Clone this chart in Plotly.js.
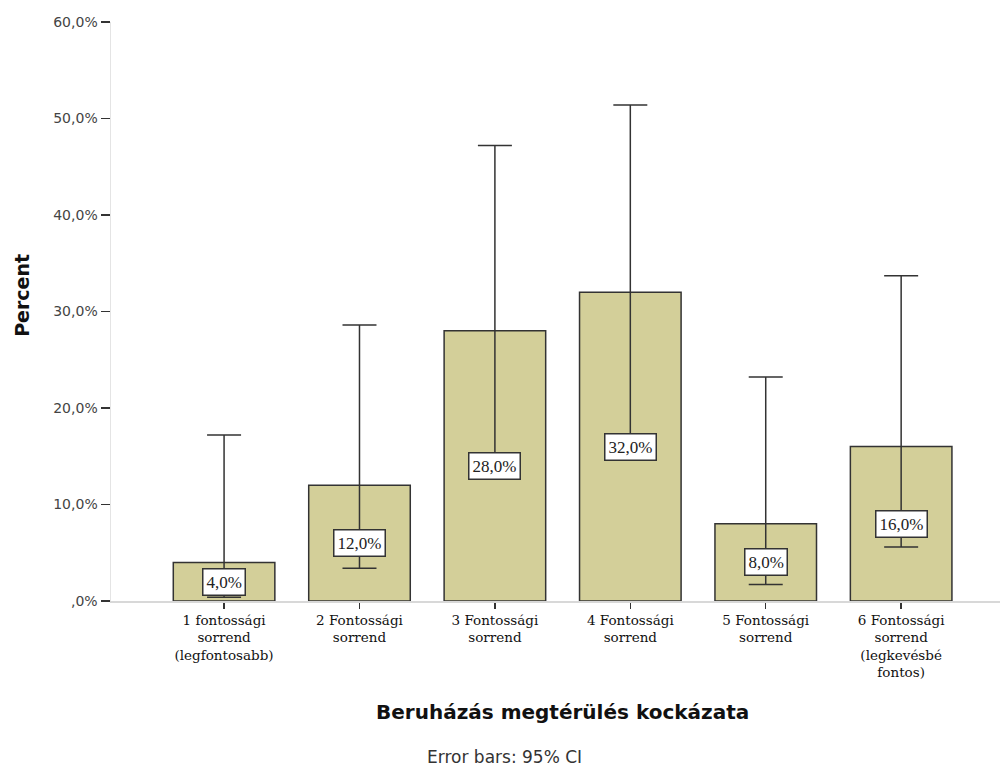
<!DOCTYPE html>
<html>
<head>
<meta charset="utf-8">
<script src="https://cdn.plot.ly/plotly-3.0.1.min.js"></script>
<style>html,body{margin:0;padding:0;background:#fff;}#chart{width:1004px;height:771px;}</style>
</head>
<body>
<div id="chart"></div>
<script>
var categories = [
  "1 fontossági<br>sorrend<br>(legfontosabb)",
  "2 Fontossági<br>sorrend",
  "3 Fontossági<br>sorrend",
  "4 Fontossági<br>sorrend",
  "5 Fontossági<br>sorrend",
  "6 Fontossági<br>sorrend<br>(legkevésbé<br>fontos)"
];
var percentValues = [4.0, 12.0, 28.0, 32.0, 8.0, 16.0];
var ciUpper = [17.2, 28.6, 47.2, 51.4, 23.2, 33.7];
var ciLower = [0.4, 3.4, 14.5, 16.0, 1.7, 5.6];
var barLabels = ["4,0%", "12,0%", "28,0%", "32,0%", "8,0%", "16,0%"];
var yTickVals = [0, 10, 20, 30, 40, 50, 60];
var yTickText = [",0%", "10,0%", "20,0%", "30,0%", "40,0%", "50,0%", "60,0%"];

var xIdx = categories.map(function(c, i){ return i; });
var errPlus = percentValues.map(function(v, i){ return ciUpper[i] - v; });
var errMinus = percentValues.map(function(v, i){ return v - ciLower[i]; });

var trace = {
  type: 'bar',
  x: xIdx,
  y: percentValues,
  width: 0.75,
  marker: {color: '#d3cf99', line: {color: '#333333', width: 1.5}},
  error_y: {type: 'data', symmetric: false, array: errPlus, arrayminus: errMinus,
            color: '#333333', thickness: 1.5, width: 17},
  hoverinfo: 'none'
};

var annotations = percentValues.map(function(v, i){
  return {x: xIdx[i], y: v / 2, xref: 'x', yref: 'y', text: barLabels[i], showarrow: false,
    font: {family: 'Liberation Serif, serif', size: 17, color: '#222'},
    bgcolor: '#ffffff', bordercolor: '#333333', borderwidth: 1.5, borderpad: 3};
});
annotations.push({xref: 'paper', yref: 'paper', x: 0.508, y: 0, yanchor: 'middle', yshift: -111,
  text: '<b>Beruházás megtérülés kockázata</b>', showarrow: false,
  font: {family: 'DejaVu Sans, sans-serif', size: 20, color: '#111'}});
annotations.push({xref: 'paper', yref: 'paper', x: 0.443, y: 0, yanchor: 'middle', yshift: -156,
  text: 'Error bars: 95% CI', showarrow: false,
  font: {family: 'DejaVu Sans, sans-serif', size: 17, color: '#333'}});
annotations.push({xref: 'paper', yref: 'paper', x: 0, y: 0.527, xanchor: 'center', yanchor: 'middle', xshift: -89,
  text: '<b>Percent</b>', textangle: -90, showarrow: false,
  font: {family: 'DejaVu Sans, sans-serif', size: 19, color: '#111'}});

var layout = {
  width: 1004, height: 771,
  margin: {l: 111, r: 4, t: 22, b: 170},
  paper_bgcolor: '#ffffff', plot_bgcolor: '#ffffff',
  showlegend: false,
  xaxis: {
    range: [-0.835, 5.73],
    tickvals: xIdx, ticktext: categories,
    ticks: 'outside', ticklen: 6, tickcolor: '#333', tickwidth: 1.5,
    showline: true, linecolor: '#d8d8d8', linewidth: 1.5,
    showgrid: false, zeroline: false,
    tickfont: {family: 'DejaVu Serif, serif', size: 13.5, color: '#111'},
    fixedrange: true
  },
  yaxis: {
    range: [0, 60],
    tickvals: yTickVals, ticktext: yTickText,
    ticks: 'outside', ticklen: 9, tickcolor: '#333', tickwidth: 1.5,
    showline: true, linecolor: '#e4e4e4', linewidth: 1.5,
    showgrid: false, zeroline: false,
    tickfont: {family: 'DejaVu Sans, sans-serif', size: 14, color: '#444'},
    fixedrange: true
  },
  annotations: annotations
};

Plotly.newPlot('chart', [trace], layout, {displayModeBar: false, staticPlot: true});
</script>
</body>
</html>
